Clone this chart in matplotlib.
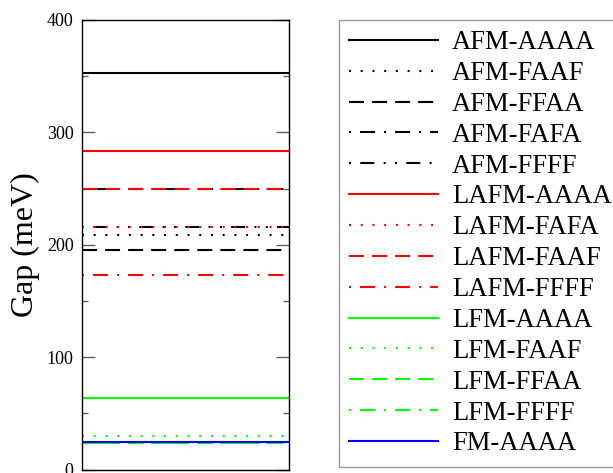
import matplotlib
matplotlib.use("Agg")
import matplotlib.pyplot as plt
from matplotlib.ticker import MultipleLocator

# Band gaps (meV) for each magnetic configuration
labels = ["AFM-AAAA", "AFM-FAAF", "AFM-FFAA", "AFM-FAFA", "AFM-FFFF",
          "LAFM-AAAA", "LAFM-FAFA", "LAFM-FAAF", "LAFM-FFFF",
          "LFM-AAAA", "LFM-FAAF", "LFM-FFAA", "LFM-FFFF",
          "FM-AAAA"]
gaps = [352.5, 208.5, 195, 249.5, 215.5,
        283.5, 215.5, 249.5, 173,
        63.3, 29.5, 23.3, 23.3,
        24.2]

plt.rcParams["font.family"] = ["Liberation Serif", "DejaVu Serif"]
plt.rcParams["lines.scale_dashes"] = False

# line styles (dash patterns in points)
DOT = (0, (1.44, 7.0))
DASH = (0, (10.8, 5.8))
DASHDOT = (0, (1.44, 6.5, 10.8, 6.5))
DASHDOTDOT = (0, (1.44, 6.7, 10.1, 6.7, 1.44, 6.7))
SOLID = "-"

colors = ["black"] * 5 + ["#ff0000"] * 4 + ["#00ff00"] * 4 + ["#0000ff"]
styles = [SOLID, DOT, DASH, DASHDOT, DASHDOTDOT,
          SOLID, DOT, DASH, DASHDOT,
          SOLID, DOT, DASH, DASHDOT,
          SOLID]

fig = plt.figure(figsize=(6.13, 4.73), dpi=100)
ax = fig.add_axes([82 / 613, 1 - 469.5 / 473, (289 - 82) / 613, (469.5 - 20) / 473])

handles = []
for lab, g, c, ls in zip(labels, gaps, colors, styles):
    h = ax.axhline(g, color=c, linestyle=ls, linewidth=1.5, label=lab)
    handles.append(h)

ax.set_ylim(0, 400)
ax.set_xlim(0, 1)
ax.set_xticks([])
ax.yaxis.set_major_locator(MultipleLocator(100))
ax.yaxis.set_minor_locator(MultipleLocator(50))
ax.tick_params(axis="y", which="both", direction="in", left=True, right=True,
               color="#606060", width=1.0, labelsize=13, pad=6)
ax.tick_params(axis="y", which="major", length=9.5)
ax.tick_params(axis="y", which="minor", length=4.5)
for s in ax.spines.values():
    s.set_linewidth(1.0)
    s.set_color("black")

ax.set_ylabel("Gap (meV)", fontsize=23, labelpad=5)

# legend box runs past the right edge of the canvas
leg = fig.legend(handles=handles, loc="upper left",
                 bbox_to_anchor=(339 / 613, 1 - 20 / 473, 290 / 613, 0),
                 bbox_transform=fig.transFigure, borderaxespad=0, mode="expand",
                 fontsize=19.2, frameon=True, fancybox=False,
                 handlelength=3.35, handletextpad=0.5, labelspacing=0.22,
                 borderpad=0.38)
frame = leg.get_frame()
frame.set_edgecolor("#808080")
frame.set_linewidth(1.0)

fig.savefig("out.png", dpi=100)
